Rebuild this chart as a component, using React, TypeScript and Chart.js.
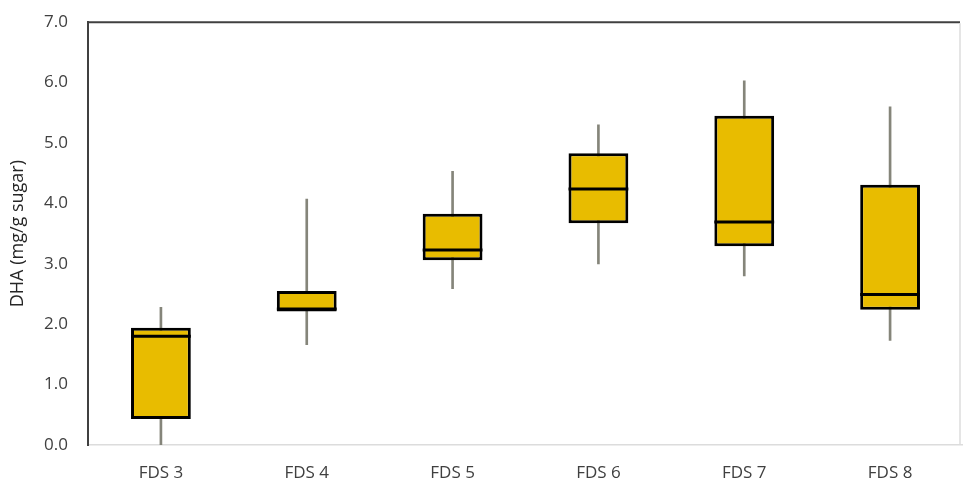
import React, { useEffect, useRef } from "react";
import { Chart, registerables } from "chart.js";

Chart.register(...registerables);

const categories = ["FDS 3", "FDS 4", "FDS 5", "FDS 6", "FDS 7", "FDS 8"];
const minValues = [0.0, 1.66, 2.59, 3.0, 2.8, 1.73];
const q1Values = [0.43, 2.21, 3.06, 3.67, 3.29, 2.24];
const medianValues = [1.8, 2.25, 3.23, 4.24, 3.69, 2.49];
const q3Values = [1.94, 2.55, 3.83, 4.83, 5.45, 4.31];
const maxValues = [2.28, 4.07, 4.53, 5.3, 6.03, 5.6];
const yTicks = [0, 1, 2, 3, 4, 5, 6, 7];

const BOX_FILL = "#E8BC00";
const WHISKER = "#85857a";
const TEXT = "#404040";
const FONT = "'Open Sans', 'Liberation Sans', sans-serif";

const medianPlugin = {
  id: "medianLines",
  afterDatasetsDraw(chart: any) {
    const meta = chart.getDatasetMeta(0);
    const yScale = chart.scales.y;
    const ctx = chart.ctx;
    ctx.save();
    ctx.strokeStyle = "#000";
    ctx.lineWidth = 3;
    meta.data.forEach((el: any, i: number) => {
      const y = yScale.getPixelForValue(medianValues[i]);
      ctx.beginPath();
      ctx.moveTo(el.x - el.width / 2, y);
      ctx.lineTo(el.x + el.width / 2, y);
      ctx.stroke();
    });
    ctx.restore();
  },
};

const framePlugin = {
  id: "frame",
  afterDraw(chart: any) {
    const { left, top, bottom } = chart.chartArea;
    const right = 960;
    const ctx = chart.ctx;
    ctx.save();
    ctx.strokeStyle = "#404040";
    ctx.lineWidth = 2;
    ctx.beginPath();
    ctx.moveTo(left - 1, top);
    ctx.lineTo(right, top);
    ctx.stroke();
    ctx.strokeStyle = "#dcdcdc";
    ctx.lineWidth = 1.5;
    ctx.beginPath();
    ctx.moveTo(right, top + 1);
    ctx.lineTo(right, bottom);
    ctx.stroke();
    ctx.restore();
  },
};

export default function App() {
  const canvasRef = useRef<HTMLCanvasElement | null>(null);

  useEffect(() => {
    if (!canvasRef.current) return;
    const chart = new Chart(canvasRef.current, {
      type: "bar",
      data: {
        labels: categories,
        datasets: [
          {
            label: "box",
            data: categories.map((_, i) => [q1Values[i], q3Values[i]]) as any,
            backgroundColor: BOX_FILL,
            borderColor: "#000",
            borderWidth: 3,
            borderSkipped: false,
            grouped: false,
            barPercentage: 1,
            categoryPercentage: 0.41,
          },
          {
            label: "whisker",
            data: categories.map((_, i) => [minValues[i], maxValues[i]]) as any,
            backgroundColor: WHISKER,
            borderWidth: 0,
            grouped: false,
            barThickness: 2,
          },
        ],
      },
      options: {
        responsive: false,
        animation: false,
        layout: { padding: { left: 0, right: 0, top: 14, bottom: 0 } },
        plugins: {
          legend: { display: false },
          tooltip: { enabled: false },
        },
        scales: {
          x: {
            grid: { display: false },
            border: { display: true, color: "#dcdcdc", width: 1.5 },
            ticks: {
              color: TEXT,
              font: { family: FONT, size: 17 },
              padding: 10,
            },
            afterFit: (axis: any) => {
              axis.height = 37;
            },
          },
          y: {
            min: 0,
            max: 7,
            grid: { display: false },
            border: { display: true, color: "#404040", width: 2 },
            afterBuildTicks: (axis: any) => {
              axis.ticks = yTicks.map((v) => ({ value: v }));
            },
            ticks: {
              color: TEXT,
              font: { family: FONT, size: 17 },
              padding: 12,
              callback: (v: any) => Number(v).toFixed(1),
            },
            title: {
              display: true,
              text: "DHA (mg/g sugar)",
              color: "#262626",
              font: { family: FONT, size: 18 },
              padding: { top: 7, bottom: 0 },
            },
            afterFit: (axis: any) => {
              axis.width = 88;
            },
          },
        },
      },
      plugins: [medianPlugin, framePlugin],
    });
    return () => chart.destroy();
  }, []);

  return (
    <div style={{ position: "fixed", left: 0, top: 0, width: 963, height: 482, background: "#fff" }}>
      <canvas ref={canvasRef} width={963} height={482} />
    </div>
  );
}
